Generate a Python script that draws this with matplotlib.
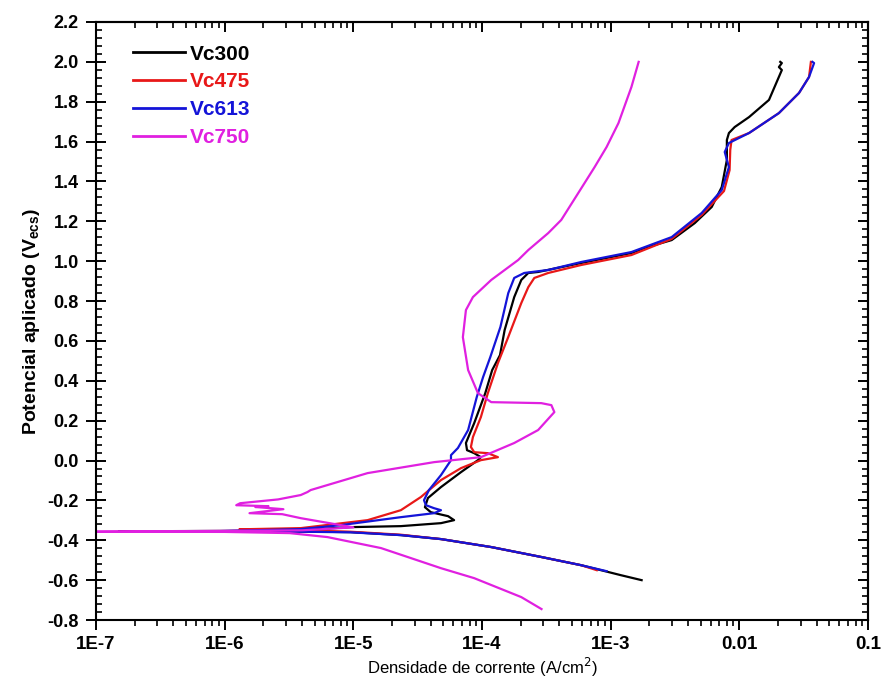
import matplotlib
matplotlib.use("Agg")
import matplotlib.pyplot as plt
from matplotlib.ticker import FixedLocator, FixedFormatter, MultipleLocator, FuncFormatter, LogLocator

plt.rcParams['font.family'] = ['Liberation Sans', 'DejaVu Sans']

# current density (A/cm2) and potential (V)
i_vc300 = [1.74e-3, 1.2e-3, 5.9e-4, 2.9e-4, 1.18e-4, 4.8e-5, 2.34e-5, 9.5e-6, 3.0e-6, 1.5e-7,
           1.0e-6, 3.9e-6, 9.5e-6, 2.34e-5, 4.8e-5, 6.07e-5, 5.45e-5, 4.0e-5, 3.6e-5, 3.8e-5,
           4.8e-5, 6.87e-5, 9.3e-5, 9.8e-5, 8.7e-5, 7.65e-5, 7.5e-5, 8.7e-5, 1.06e-4, 1.2e-4,
           1.38e-4, 1.5e-4, 1.78e-4, 2.02e-4, 2.29e-4, 2.73e-4, 5.9e-4, 1.45e-3, 1.83e-3, 2.98e-3,
           4.5e-3, 6.1e-3, 7.3e-3, 8.0e-3, 8.0e-3, 8.3e-3, 9.2e-3, 0.0119, 0.017, 0.0214,
           0.0203, 0.0214, 0.0208]
e_vc300 = [-0.600, -0.575, -0.525, -0.484, -0.434, -0.394, -0.374, -0.359, -0.355, -0.355,
           -0.353, -0.349, -0.334, -0.329, -0.314, -0.299, -0.279, -0.259, -0.234, -0.188,
           -0.133, -0.058, 0.002, 0.017, 0.037, 0.052, 0.088, 0.188, 0.338, 0.454,
           0.529, 0.655, 0.820, 0.906, 0.941, 0.946, 0.991, 1.041, 1.066, 1.106,
           1.191, 1.272, 1.372, 1.508, 1.608, 1.643, 1.673, 1.723, 1.809, 1.959,
           1.974, 1.994, 2.000]

i_vc475 = [7.8e-4, 5.9e-4, 2.9e-4, 1.18e-4, 4.8e-5, 2.34e-5, 9.5e-6, 4.0e-6, 1.3e-6, 3.9e-6,
           1.29e-5, 2.34e-5, 3.35e-5, 4.8e-5, 6.87e-5, 9.8e-5, 1.33e-4, 1.11e-4, 8.7e-5, 8.2e-5,
           8.5e-5, 9.8e-5, 1.11e-4, 1.33e-4, 1.6e-4, 2.02e-4, 2.29e-4, 2.55e-4, 3.27e-4, 5.9e-4,
           1.45e-3, 2.98e-3, 5.1e-3, 7.6e-3, 8.4e-3, 8.5e-3, 8.7e-3, 0.0119, 0.0203, 0.0291,
           0.0348, 0.036]
e_vc475 = [-0.550, -0.525, -0.484, -0.434, -0.394, -0.372, -0.357, -0.350, -0.345, -0.339,
           -0.299, -0.249, -0.183, -0.098, -0.038, 0.002, 0.017, 0.037, 0.042, 0.068,
           0.118, 0.218, 0.338, 0.489, 0.620, 0.790, 0.870, 0.916, 0.941, 0.981,
           1.031, 1.112, 1.232, 1.352, 1.457, 1.558, 1.608, 1.643, 1.743, 1.844,
           1.924, 2.000]

i_vc613 = [9.3e-4, 5.9e-4, 2.9e-4, 1.18e-4, 4.8e-5, 2.34e-5, 9.5e-6, 3.0e-6, 8.0e-7, 3.9e-6,
           7.98e-6, 2.34e-5, 4.24e-5, 4.8e-5, 4.24e-5, 3.67e-5, 3.54e-5, 3.87e-5, 4.8e-5, 5.74e-5,
           5.74e-5, 6.5e-5, 7.8e-5, 9.1e-5, 1.02e-4, 1.16e-4, 1.39e-4, 1.6e-4, 1.78e-4, 2.13e-4,
           3.27e-4, 5.9e-4, 1.45e-3, 2.98e-3, 5.1e-3, 7.3e-3, 8.3e-3, 7.7e-3, 8.3e-3, 0.0119,
           0.0203, 0.0291, 0.0348, 0.0381, 0.037]
e_vc613 = [-0.555, -0.525, -0.484, -0.434, -0.394, -0.374, -0.360, -0.356, -0.355, -0.344,
           -0.324, -0.284, -0.264, -0.249, -0.239, -0.224, -0.199, -0.148, -0.073, 0.002,
           0.027, 0.063, 0.153, 0.318, 0.419, 0.519, 0.670, 0.840, 0.916, 0.941,
           0.956, 0.996, 1.046, 1.121, 1.242, 1.357, 1.472, 1.548, 1.593, 1.643,
           1.743, 1.844, 1.924, 1.994, 2.000]

i_vc750 = [2.9e-4, 2.02e-4, 8.7e-5, 4.8e-5, 1.64e-5, 6.3e-6, 3.2e-6, 1.0e-6, 1.0e-7, 4.0e-6,
           1.0e-5, 8.0e-6, 3.9e-6, 2.8e-6, 1.56e-6, 2.86e-6, 1.73e-6, 2.19e-6, 1.23e-6, 1.32e-6,
           2.6e-6, 3.9e-6, 4.4e-6, 4.66e-6, 1.29e-5, 4.24e-5, 9.8e-5, 1.78e-4, 2.73e-4, 3.65e-4,
           3.46e-4, 2.89e-4, 1.18e-4, 9.3e-5, 7.8e-5, 7.1e-5, 7.5e-5, 8.5e-5, 1.18e-4, 1.91e-4,
           2.29e-4, 3.27e-4, 4.13e-4, 5.6e-4, 7.5e-4, 9.3e-4, 1.15e-3, 1.45e-3, 1.65e-3]
e_vc750 = [-0.745, -0.685, -0.590, -0.540, -0.439, -0.384, -0.364, -0.358, -0.357, -0.350,
           -0.335, -0.324, -0.289, -0.269, -0.264, -0.244, -0.233, -0.229, -0.224, -0.214,
           -0.195, -0.173, -0.158, -0.148, -0.063, -0.008, 0.017, 0.088, 0.153, 0.243,
           0.278, 0.288, 0.293, 0.338, 0.454, 0.619, 0.755, 0.820, 0.906, 1.006,
           1.056, 1.141, 1.207, 1.342, 1.472, 1.573, 1.693, 1.874, 2.000]

labels = ["Vc300", "Vc475", "Vc613", "Vc750"]
colors = ["#000000", "#e81818", "#1414d8", "#e020e0"]

x_ticks = [1e-7, 1e-6, 1e-5, 1e-4, 1e-3, 1e-2, 1e-1]
x_ticklabels = ["1E-7", "1E-6", "1E-5", "1E-4", "1E-3", "0.01", "0.1"]

fig = plt.figure(figsize=(8.84, 6.83), dpi=100)
ax = fig.add_axes([0.1086, 0.0922, 0.8733, 0.8756])

series = [(i_vc300, e_vc300), (i_vc475, e_vc475), (i_vc613, e_vc613), (i_vc750, e_vc750)]
for (xs, ys), lab, col in zip(series, labels, colors):
	ax.plot(xs, ys, color=col, lw=1.6, label=lab)

ax.set_xscale("log")
ax.set_xlim(1e-7, 0.1)
ax.set_ylim(-0.8, 2.2)

ax.xaxis.set_major_locator(FixedLocator(x_ticks))
ax.xaxis.set_major_formatter(FixedFormatter(x_ticklabels))
ax.xaxis.set_minor_locator(LogLocator(base=10, subs=range(2, 10), numticks=20))
ax.yaxis.set_major_locator(MultipleLocator(0.2))
ax.yaxis.set_minor_locator(MultipleLocator(0.04))
ax.yaxis.set_major_formatter(FuncFormatter(lambda v, p: "%.1f" % (0.0 if abs(v) < 1e-9 else v)))

ax.tick_params(axis="x", which="major", direction="out", length=7.5, width=1.4, top=False,
			   labelsize=13.5, pad=4)
ax.tick_params(axis="x", which="minor", direction="out", length=4.5, width=1.2, top=False)
ax.tick_params(axis="y", which="major", direction="inout", length=15, width=1.4, right=False,
			   labelsize=13, pad=5)
ax.tick_params(axis="y", which="minor", direction="in", length=4.5, width=1.2, right=False)
for t in ax.get_xticklabels() + ax.get_yticklabels():
	t.set_fontweight("bold")

# top and right axes carry inward ticks only
top = ax.secondary_xaxis("top")
top.xaxis.set_major_locator(FixedLocator(x_ticks))
top.xaxis.set_minor_locator(LogLocator(base=10, subs=range(2, 10), numticks=20))
top.tick_params(which="major", direction="in", length=7.5, width=1.4, labeltop=False)
top.tick_params(which="minor", direction="in", length=4, width=1.2)
right = ax.secondary_yaxis("right")
right.yaxis.set_major_locator(MultipleLocator(0.2))
right.yaxis.set_minor_locator(MultipleLocator(0.04))
right.tick_params(which="major", direction="in", length=7.5, width=1.4, labelright=False)
right.tick_params(which="minor", direction="in", length=4, width=1.2)

for sp in list(ax.spines.values()) + [top.spines["top"], right.spines["right"]]:
	sp.set_linewidth(1.5)

ax.set_xlabel("Densidade de corrente (A/cm$^2$)", fontsize=12, labelpad=2)
ax.set_ylabel("Potencial aplicado (V$_{\\mathregular{ecs}}$)", fontsize=14, fontweight="bold", labelpad=4)

leg = ax.legend(loc="upper left", bbox_to_anchor=(0.048, 0.962), frameon=False, fontsize=15,
				handlelength=2.5, handletextpad=0.25, labelspacing=0.42, borderaxespad=0, borderpad=0)
for txt, col in zip(leg.get_texts(), colors):
	txt.set_color(col)
	txt.set_fontweight("bold")
for ln in leg.get_lines():
	ln.set_linewidth(2)

fig.savefig("out.png", dpi=100)
